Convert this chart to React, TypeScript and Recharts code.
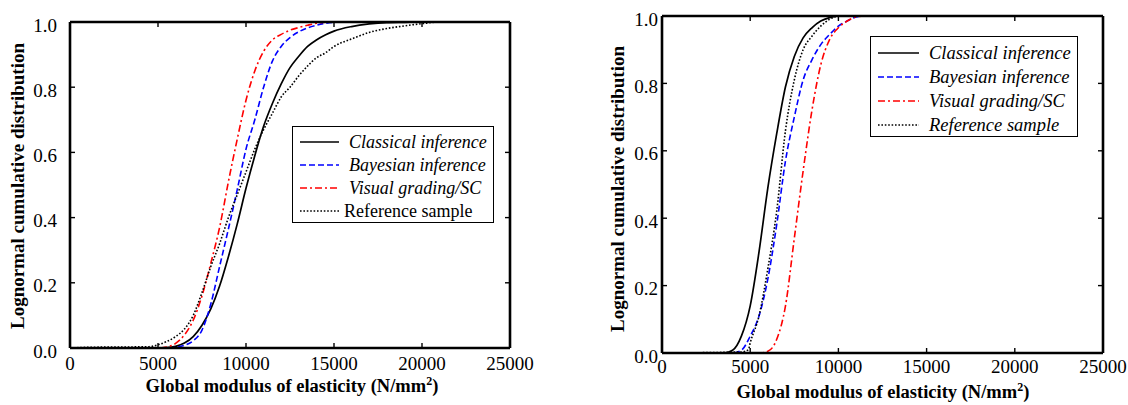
import React from 'react';
import { LineChart, Line, XAxis, YAxis, Legend } from 'recharts';

// ---------- data ----------
const X_TICKS = [0, 5000, 10000, 15000, 20000, 25000];
const Y_TICKS = [0, 0.2, 0.4, 0.6, 0.8, 1.0];
const SERIES_NAMES = ['Classical inference', 'Bayesian inference', 'Visual grading/SC', 'Reference sample'];
const X_TITLE = 'Global modulus of elasticity (N/mm';
const Y_TITLE = 'Lognormal cumulative distribution';

// Left panel
const L_CLASSICAL_X = [0, 5000, 5500, 6000, 6500, 7000, 7500, 8000, 8500, 9000, 9500, 10000, 10500, 11000, 11500, 12000, 12500, 13000, 13500, 14000, 14500, 15000, 16000, 17000, 18000, 19000, 20000, 25000];
const L_CLASSICAL_P = [0, 0, 0.001, 0.005, 0.015, 0.035, 0.07, 0.12, 0.19, 0.28, 0.38, 0.49, 0.59, 0.68, 0.75, 0.81, 0.86, 0.895, 0.925, 0.945, 0.96, 0.972, 0.986, 0.994, 0.998, 0.999, 1, 1];
const L_BAYES_X = [0, 5500, 6000, 6500, 7000, 7500, 8000, 8500, 9000, 9500, 10000, 10500, 11000, 11500, 12000, 12500, 13000, 13500, 14000, 14500, 15000, 16000, 25000];
const L_BAYES_P = [0, 0, 0.002, 0.008, 0.022, 0.055, 0.135, 0.25, 0.365, 0.485, 0.61, 0.7, 0.8, 0.88, 0.925, 0.952, 0.97, 0.982, 0.99, 0.996, 0.999, 1, 1];
const L_VISUAL_X = [0, 5000, 5500, 6000, 6500, 7000, 7500, 8000, 8500, 9000, 9500, 10000, 10500, 11000, 11500, 12000, 12500, 13000, 13500, 14000, 14500, 15000, 25000];
const L_VISUAL_P = [0, 0, 0.003, 0.014, 0.04, 0.085, 0.16, 0.26, 0.37, 0.51, 0.64, 0.76, 0.85, 0.91, 0.945, 0.962, 0.975, 0.983, 0.99, 0.996, 0.999, 1, 1];
const L_REF_X = [0, 1000, 4500, 5000, 5500, 6000, 6500, 7000, 7500, 8000, 8500, 9000, 9500, 10000, 10500, 11000, 11500, 12000, 12500, 13000, 13500, 14000, 14500, 15000, 16000, 17000, 18000, 19000, 20000, 21000, 25000];
const L_REF_P = [0, 0.002, 0.004, 0.01, 0.02, 0.035, 0.058, 0.1, 0.17, 0.25, 0.32, 0.4, 0.47, 0.54, 0.61, 0.67, 0.72, 0.77, 0.8, 0.835, 0.865, 0.89, 0.905, 0.925, 0.948, 0.968, 0.98, 0.988, 0.995, 1, 1];

// Right panel
const R_CLASSICAL_X = [0, 3500, 4000, 4500, 5000, 5500, 6000, 6500, 7000, 7500, 8000, 8500, 9000, 9500, 10000, 25000];
const R_CLASSICAL_P = [0, 0, 0.008, 0.05, 0.14, 0.3, 0.49, 0.65, 0.79, 0.88, 0.935, 0.965, 0.985, 0.995, 1, 1];
const R_BAYES_X = [0, 4000, 4500, 5000, 5500, 6000, 6500, 7000, 7500, 8000, 8500, 9000, 9500, 10000, 10500, 11000, 11500, 25000];
const R_BAYES_P = [0, 0, 0.008, 0.05, 0.11, 0.22, 0.38, 0.57, 0.7, 0.81, 0.87, 0.915, 0.945, 0.97, 0.985, 0.997, 1, 1];
const R_VISUAL_X = [0, 5500, 6000, 6500, 7000, 7500, 8000, 8500, 9000, 9500, 10000, 10500, 11000, 11500, 25000];
const R_VISUAL_P = [0, 0, 0.005, 0.04, 0.14, 0.34, 0.54, 0.72, 0.855, 0.93, 0.965, 0.985, 0.997, 1, 1];
const R_REF_X = [0, 4500, 4900, 5000, 5500, 6000, 6500, 7000, 7500, 8000, 8500, 9000, 9500, 10000, 25000];
const R_REF_P = [0, 0.003, 0.01, 0.03, 0.11, 0.25, 0.42, 0.66, 0.81, 0.9, 0.94, 0.97, 0.99, 1, 1];

// ---------- styles ----------
const FONT = '"Liberation Serif", "Times New Roman", Times, serif';
const STYLES = [
  { color: '#000000', dash: undefined as string | undefined, width: 1.7 },
  { color: '#0000ff', dash: '6 3', width: 1.6 },
  { color: '#ff0000', dash: '7 3 2 3', width: 1.6 },
  { color: '#000000', dash: '1.6 1.8', width: 1.6 },
];

const toPts = (xs: number[], ps: number[]) => xs.map((x, i) => ({ x, p: ps[i] }));

type Panel = {
  left: number;
  width: number;
  plot: { top: number; right: number; bottom: number; left: number };
  series: { x: number; p: number }[][];
  tickFont: number;
  yGap: number;
  xDy: number;
  legend: { left: number; top: number; width: number; height: number; rowTop: number; rowH: number; lineX: number; lineW: number; textX: number; refTextX: number; refItalic: boolean; font: number };
  yTitle: { cx: number; cy: number };
  xTitle: { cx: number; cy: number };
};

// plot = distances from chart edges to the plot box
const PANELS: Panel[] = [
  {
    left: 0,
    width: 540,
    plot: { top: 22, right: 30, bottom: 57, left: 70 },
    series: [toPts(L_CLASSICAL_X, L_CLASSICAL_P), toPts(L_BAYES_X, L_BAYES_P), toPts(L_VISUAL_X, L_VISUAL_P), toPts(L_REF_X, L_REF_P)],
    tickFont: 19,
    yGap: 13,
    xDy: 15,
    legend: { left: 292, top: 126, width: 202, height: 97, rowTop: 15, rowH: 23, lineX: 7, lineW: 39, textX: 56, refTextX: 51, refItalic: false, font: 18 },
    yTitle: { cx: 17, cy: 186 },
    xTitle: { cx: 292, cy: 386 },
  },
  {
    left: 590,
    width: 538,
    plot: { top: 16, right: 25, bottom: 52, left: 72 },
    series: [toPts(R_CLASSICAL_X, R_CLASSICAL_P), toPts(R_BAYES_X, R_BAYES_P), toPts(R_VISUAL_X, R_VISUAL_P), toPts(R_REF_X, R_REF_P)],
    tickFont: 19,
    yGap: 4,
    xDy: 13,
    legend: { left: 280, top: 36, width: 208, height: 101, rowTop: 16, rowH: 24, lineX: 7, lineW: 41, textX: 58, refTextX: 58, refItalic: true, font: 18.5 },
    yTitle: { cx: 27, cy: 189 },
    xTitle: { cx: 293, cy: 392 },
  },
];

const fmtY = (v: number) => v.toFixed(1);

const AX_B = 20; // bottom axis height
const AX_T = 4; // top axis height
const AX_L = 20; // left axis width
const AX_R = 4; // right axis width

function PanelChart({ panel }: { panel: Panel }) {
  const H = 405;
  const lg = panel.legend;
  const margin = {
    top: panel.plot.top - AX_T,
    bottom: panel.plot.bottom - AX_B,
    left: panel.plot.left - AX_L,
    right: panel.plot.right - AX_R,
  };
  const xTick = (show: boolean, dir: number) => (p: any) => (
    <g key={`xt-${dir}-${p.payload.value}`}>
      <line x1={p.x} x2={p.x} y1={p.y} y2={p.y + dir * 5} stroke="#000" strokeWidth={1.4} />
      {show && (
        <text x={p.x} y={p.y + panel.xDy} dy="0.35em" textAnchor="middle" fontFamily={FONT} fontSize={panel.tickFont} fill="#000">
          {p.payload.value}
        </text>
      )}
    </g>
  );
  const yTick = (show: boolean, dir: number) => (p: any) => (
    <g key={`yt-${dir}-${p.payload.value}`}>
      <line x1={p.x} x2={p.x + dir * 5} y1={p.y} y2={p.y} stroke="#000" strokeWidth={1.4} />
      {show && (
        <text x={p.x - panel.yGap} y={p.y + 3} dy="0.35em" textAnchor="end" fontFamily={FONT} fontSize={panel.tickFont} fill="#000">
          {fmtY(p.payload.value)}
        </text>
      )}
    </g>
  );

  const legendContent = () => (
    <div
      style={{
        position: 'relative',
        width: lg.width,
        height: lg.height,
        boxSizing: 'border-box',
        border: '1.4px solid #000',
        background: '#fff',
        fontFamily: FONT,
        fontSize: lg.font,
        color: '#000',
      }}
    >
      {SERIES_NAMES.map((name, i) => {
        const st = STYLES[i];
        const cy = lg.rowTop + i * lg.rowH;
        const isRef = i === 3;
        return (
          <div key={name}>
            <svg style={{ position: 'absolute', left: lg.lineX, top: cy - 3 }} width={lg.lineW} height={6}>
              <line x1={0} x2={lg.lineW} y1={3} y2={3} stroke={st.color} strokeWidth={st.width} strokeDasharray={st.dash} />
            </svg>
            <div
              style={{
                position: 'absolute',
                left: isRef ? lg.refTextX : lg.textX,
                top: cy,
                transform: 'translateY(-50%)',
                whiteSpace: 'nowrap',
                fontStyle: isRef && !lg.refItalic ? 'normal' : 'italic',
                lineHeight: 1,
              }}
            >
              {name}
            </div>
          </div>
        );
      })}
    </div>
  );

  const axisLine = { stroke: '#000', strokeWidth: 2.6 };

  return (
    <div style={{ position: 'absolute', left: panel.left, top: 0, width: panel.width, height: H }}>
      <LineChart width={panel.width} height={H} margin={margin}>
        <XAxis
          xAxisId="b"
          dataKey="x"
          type="number"
          domain={[0, 25000]}
          ticks={X_TICKS}
          interval={0}
          allowDataOverflow
          height={AX_B}
          tickSize={0}
          tickMargin={0}
          axisLine={axisLine}
          tickLine={false}
          tick={xTick(true, -1)}
        />
        <XAxis
          xAxisId="t"
          orientation="top"
          dataKey="x"
          type="number"
          domain={[0, 25000]}
          ticks={X_TICKS}
          interval={0}
          allowDataOverflow
          height={AX_T}
          tickSize={0}
          tickMargin={0}
          axisLine={axisLine}
          tickLine={false}
          tick={xTick(false, 1)}
        />
        <YAxis
          yAxisId="l"
          type="number"
          domain={[0, 1]}
          ticks={Y_TICKS}
          interval={0}
          allowDataOverflow
          width={AX_L}
          tickSize={0}
          tickMargin={0}
          axisLine={axisLine}
          tickLine={false}
          tick={yTick(true, 1)}
        />
        <YAxis
          yAxisId="r"
          orientation="right"
          type="number"
          domain={[0, 1]}
          ticks={Y_TICKS}
          interval={0}
          allowDataOverflow
          width={AX_R}
          tickSize={0}
          tickMargin={0}
          axisLine={axisLine}
          tickLine={false}
          tick={yTick(false, -1)}
        />
        {panel.series.map((pts, i) => (
          <Line
            key={SERIES_NAMES[i]}
            xAxisId="b"
            yAxisId="l"
            data={pts}
            dataKey="p"
            name={SERIES_NAMES[i]}
            type="monotone"
            stroke={STYLES[i].color}
            strokeWidth={STYLES[i].width}
            strokeDasharray={STYLES[i].dash}
            dot={false}
            activeDot={false}
            isAnimationActive={false}
          />
        ))}
        <Legend
          layout="vertical"
          align="center"
          verticalAlign="middle"
          content={legendContent}
          wrapperStyle={{ position: 'absolute', left: lg.left, top: lg.top, width: lg.width, height: lg.height, margin: 0 }}
        />
      </LineChart>
      <div
        style={{
          position: 'absolute',
          left: panel.yTitle.cx,
          top: panel.yTitle.cy,
          transform: 'translate(-50%, -50%) rotate(-90deg)',
          whiteSpace: 'nowrap',
          fontFamily: FONT,
          fontWeight: 'bold',
          fontSize: 19,
          lineHeight: 1,
          color: '#000',
        }}
      >
        {Y_TITLE}
      </div>
      <div
        style={{
          position: 'absolute',
          left: panel.xTitle.cx,
          top: panel.xTitle.cy,
          transform: 'translate(-50%, -50%)',
          whiteSpace: 'nowrap',
          fontFamily: FONT,
          fontWeight: 'bold',
          fontSize: 18.5,
          lineHeight: 1,
          color: '#000',
        }}
      >
        {X_TITLE}
        <sup style={{ fontSize: '0.65em', verticalAlign: '0.55em', lineHeight: 0 }}>2</sup>)
      </div>
    </div>
  );
}

export default function App() {
  return (
    <div style={{ position: 'absolute', left: 0, top: 0, width: 1128, height: 405, background: '#fff', overflow: 'hidden' }}>
      {PANELS.map((p, i) => (
        <PanelChart key={i} panel={p} />
      ))}
    </div>
  );
}
